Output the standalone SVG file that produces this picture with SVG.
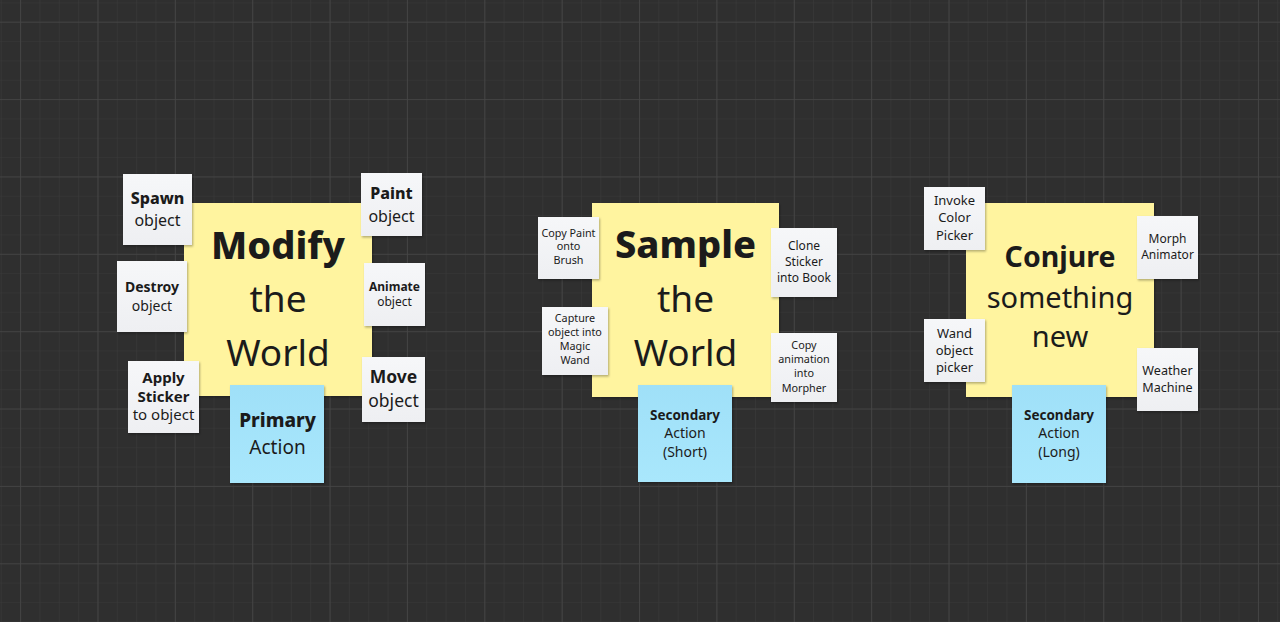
<svg xmlns="http://www.w3.org/2000/svg" width="1280" height="622" viewBox="0 0 1280 622">
<defs>
<pattern id="minor" x="20.1" y="21.7" width="19.34" height="19.34" patternUnits="userSpaceOnUse">
<path d="M0 0V19.34M0 0H19.34" stroke="#3a3a3a" stroke-width="1.2" fill="none"/>
</pattern>
<pattern id="major" x="20.1" y="21.7" width="77.37" height="77.37" patternUnits="userSpaceOnUse">
<path d="M0 0V77.37M0 0H77.37" stroke="#464646" stroke-width="1.6" fill="none"/>
</pattern>
<linearGradient id="blueGrad" x1="0" y1="0" x2="0" y2="1">
<stop offset="0" stop-color="#9fe0f8"/>
<stop offset="1" stop-color="#a9e7fc"/>
</linearGradient>
<linearGradient id="cardGrad" x1="0" y1="0" x2="0" y2="1">
<stop offset="0" stop-color="#f6f7f9"/>
<stop offset="1" stop-color="#eeeff2"/>
</linearGradient>
<filter id="shadow" x="-10%" y="-10%" width="125%" height="125%">
<feDropShadow dx="1" dy="1.5" stdDeviation="1.2" flood-color="#000" flood-opacity="0.3"/>
</filter>
</defs>
<style>
.yellow{fill:#fff49f;filter:url(#shadow)}
.blue{fill:url(#blueGrad);filter:url(#shadow)}
.card{fill:url(#cardGrad);filter:url(#shadow)}
text{font-family:"Noto Sans","Open Sans","DejaVu Sans",sans-serif;fill:#1b1b1b;text-anchor:middle}
.b{font-weight:bold}
.x{font-weight:800}
</style>
<rect width="1280" height="622" fill="#2f2f2f"/>
<rect width="1280" height="622" fill="url(#minor)"/>
<rect width="1280" height="622" fill="url(#major)"/>

<g id="connectors"/>

<!-- Group 1 -->
<g id="modify-world">
<rect class="yellow" x="184" y="203" width="188" height="193"/>
<text x="278" y="258.5" font-size="38" class="x">Modify</text>
<text x="278" y="312.3" font-size="37">the</text>
<text x="278" y="365.8" font-size="37">World</text>
</g>
<g id="spawn-object">
<rect class="card" x="123" y="174" width="69" height="71"/>
<text x="157.5" y="203.5" font-size="16" class="x">Spawn</text>
<text x="157.5" y="225.5" font-size="16">object</text>
</g>
<g id="paint-object">
<rect class="card" x="361" y="173" width="61" height="63"/>
<text x="391.5" y="198.5" font-size="16" class="x">Paint</text>
<text x="391.5" y="221.8" font-size="16">object</text>
</g>
<g id="destroy-object">
<rect class="card" x="117" y="261" width="70" height="71"/>
<text x="152" y="291.8" font-size="14" class="b">Destroy</text>
<text x="152" y="311" font-size="14">object</text>
</g>
<g id="animate-object">
<rect class="card" x="364" y="263" width="61" height="63"/>
<text x="394.5" y="290.8" font-size="12" class="b">Animate</text>
<text x="394.5" y="305.8" font-size="12">object</text>
</g>
<g id="apply-sticker">
<rect class="card" x="128" y="361" width="71" height="72"/>
<text x="163.5" y="383.3" font-size="15" class="b">Apply</text>
<text x="163.5" y="401.7" font-size="15" class="b">Sticker</text>
<text x="163.5" y="420" font-size="15">to object</text>
</g>
<g id="move-object">
<rect class="card" x="362" y="357" width="63" height="65"/>
<text x="393.5" y="383.3" font-size="17.5" class="b">Move</text>
<text x="393.5" y="407.3" font-size="17.5">object</text>
</g>
<g id="primary-action">
<rect class="blue" x="230" y="385" width="94" height="98"/>
<text x="277.5" y="426.7" font-size="19" class="x">Primary</text>
<text x="277.5" y="454.3" font-size="19">Action</text>
</g>

<!-- Group 2 -->
<g id="sample-world">
<rect class="yellow" x="592" y="203" width="187" height="194"/>
<text x="685.5" y="257.6" font-size="38" class="x">Sample</text>
<text x="685.5" y="312.3" font-size="37">the</text>
<text x="685.5" y="365.8" font-size="37">World</text>
</g>
<g id="copy-paint">
<rect class="card" x="538" y="217" width="61" height="62"/>
<text x="568.5" y="236.7" font-size="10.8">Copy Paint</text>
<text x="568.5" y="250.4" font-size="10.8">onto</text>
<text x="568.5" y="264.1" font-size="10.8">Brush</text>
</g>
<g id="capture-object">
<rect class="card" x="542" y="307" width="66" height="68"/>
<text x="575" y="321.7" font-size="10.8">Capture</text>
<text x="575" y="335.8" font-size="10.8">object into</text>
<text x="575" y="349.9" font-size="10.8">Magic</text>
<text x="575" y="364" font-size="10.8">Wand</text>
</g>
<g id="clone-sticker">
<rect class="card" x="771" y="228" width="66" height="69"/>
<text x="804" y="250" font-size="12">Clone</text>
<text x="804" y="266" font-size="12">Sticker</text>
<text x="804" y="281.8" font-size="12">into Book</text>
</g>
<g id="copy-animation">
<rect class="card" x="771" y="333" width="66" height="69"/>
<text x="804" y="349" font-size="10.8">Copy</text>
<text x="804" y="363.2" font-size="10.8">animation</text>
<text x="804" y="377.4" font-size="10.8">into</text>
<text x="804" y="391.6" font-size="10.8">Morpher</text>
</g>
<g id="secondary-short">
<rect class="blue" x="638" y="385" width="94" height="97"/>
<text x="685" y="420" font-size="13.5" class="b">Secondary</text>
<text x="685" y="438.3" font-size="14">Action</text>
<text x="685" y="456.6" font-size="14">(Short)</text>
</g>

<!-- Group 3 -->
<g id="conjure-new">
<rect class="yellow" x="966" y="203" width="188" height="194"/>
<text x="1060" y="267.3" font-size="28.5" class="b">Conjure</text>
<text x="1060" y="308.3" font-size="29">something</text>
<text x="1060" y="346.7" font-size="29">new</text>
</g>
<g id="invoke-color-picker">
<rect class="card" x="924" y="187" width="61" height="63"/>
<text x="954.5" y="205" font-size="13">Invoke</text>
<text x="954.5" y="222.3" font-size="13">Color</text>
<text x="954.5" y="239.6" font-size="13">Picker</text>
</g>
<g id="morph-animator">
<rect class="card" x="1137" y="216" width="61" height="63"/>
<text x="1167.5" y="243.3" font-size="12">Morph</text>
<text x="1167.5" y="259" font-size="12">Animator</text>
</g>
<g id="wand-object-picker">
<rect class="card" x="924" y="319" width="61" height="63"/>
<text x="954.5" y="337.7" font-size="13">Wand</text>
<text x="954.5" y="355" font-size="13">object</text>
<text x="954.5" y="372.3" font-size="13">picker</text>
</g>
<g id="weather-machine">
<rect class="card" x="1137" y="348" width="61" height="63"/>
<text x="1167.5" y="375" font-size="12.6">Weather</text>
<text x="1167.5" y="391.7" font-size="12.6">Machine</text>
</g>
<g id="secondary-long">
<rect class="blue" x="1012" y="385" width="94" height="98"/>
<text x="1059" y="420" font-size="13.5" class="b">Secondary</text>
<text x="1059" y="438.3" font-size="14">Action</text>
<text x="1059" y="456.6" font-size="14">(Long)</text>
</g>
</svg>
